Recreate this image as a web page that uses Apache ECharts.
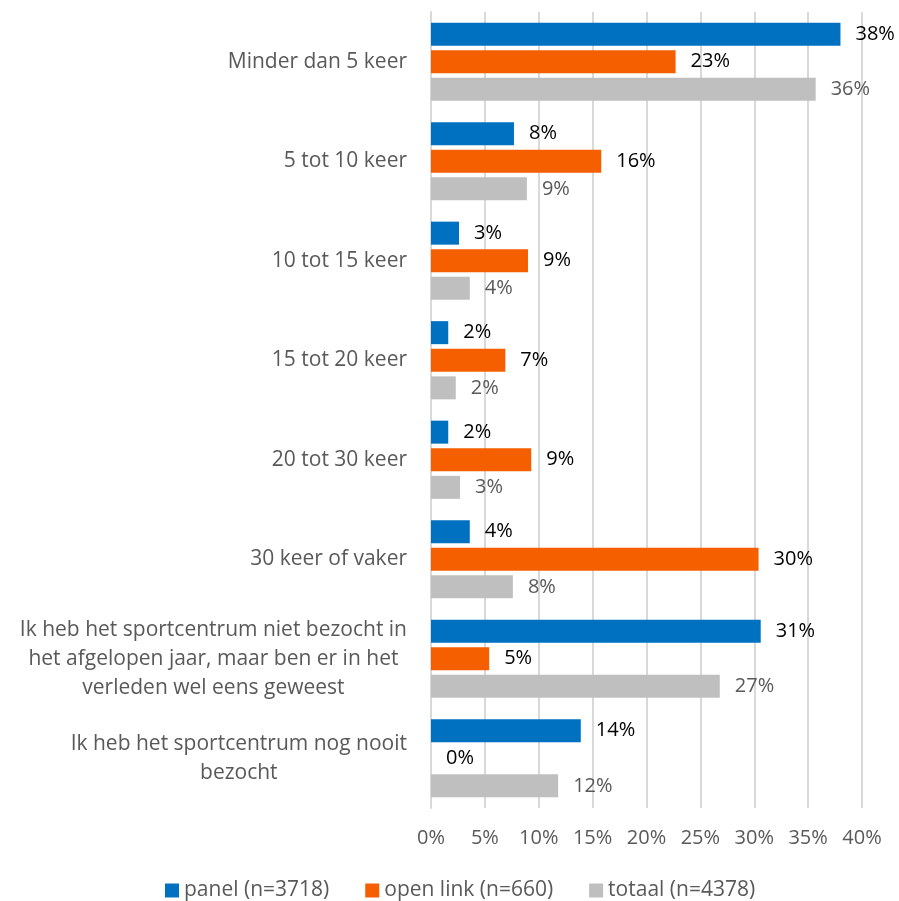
<!DOCTYPE html>
<html>
<head>
<meta charset="utf-8">
<title>Bezoek sportcentrum</title>
<script src="https://cdn.jsdelivr.net/npm/echarts@6/dist/echarts.min.js"></script>
<style>
  html, body { margin: 0; padding: 0; background: #fff; }
  #main { width: 899px; height: 901px; }
</style>
</head>
<body>
<div id="main"></div>
<script>
// categorieen (van boven naar beneden)
var categories = [
  'Minder dan 5 keer',
  '5 tot 10 keer',
  '10 tot 15 keer',
  '15 tot 20 keer',
  '20 tot 30 keer',
  '30 keer of vaker',
  'Ik heb het sportcentrum niet bezocht in\nhet afgelopen jaar, maar ben er in het\nverleden wel eens geweest',
  'Ik heb het sportcentrum nog nooit\nbezocht'
];
var seriesNames = ['panel (n=3718)', 'open link (n=660)', 'totaal (n=4378)'];
// percentages
var panel = [38.0, 7.7, 2.6, 1.6, 1.6, 3.6, 30.6, 13.9];
var openLink = [22.7, 15.8, 9.0, 6.9, 9.3, 30.4, 5.4, 0];
var totaal = [35.7, 8.9, 3.6, 2.3, 2.7, 7.6, 26.8, 11.8];
var xTicks = [0, 5, 10, 15, 20, 25, 30, 35, 40];

var font = '"Open Sans", "Noto Sans", sans-serif';
var colors = ['#0070C0', '#F55F00', '#BFBFBF'];
var labelColors = ['#000000', '#000000', '#595959'];

function barSeries(idx, data) {
  return {
    name: seriesNames[idx],
    type: 'bar',
    data: data,
    barWidth: 23,
    barGap: '20%',
    itemStyle: { color: colors[idx] },
    label: {
      show: true,
      position: 'right',
      distance: 15,
      color: labelColors[idx],
      fontFamily: font,
      fontSize: 20,
      formatter: function (p) { return Math.round(p.value) + '%'; }
    }
  };
}

var myChart = echarts.init(document.getElementById('main'));
myChart.setOption({
  animation: false,
  textStyle: { fontFamily: font },
  grid: { left: 431, right: 37, top: 12, height: 796, containLabel: false },
  legend: {
    data: seriesNames,
    left: 165,
    top: 880,
    padding: 0,
    icon: 'rect',
    itemWidth: 14,
    itemHeight: 14,
    itemGap: 36,
    textStyle: { color: '#595959', fontSize: 21, fontFamily: font }
  },
  xAxis: {
    type: 'value',
    min: xTicks[0],
    max: xTicks[xTicks.length - 1],
    interval: 5,
    axisLine: { show: false },
    axisTick: { show: false },
    splitLine: { lineStyle: { color: '#D9D9D9', width: 2 } },
    axisLabel: {
      margin: 20,
      color: '#595959',
      fontSize: 20,
      fontFamily: font,
      formatter: '{value}%'
    }
  },
  yAxis: {
    type: 'category',
    inverse: true,
    data: categories,
    axisTick: { show: false },
    axisLine: { show: true, lineStyle: { color: '#D9D9D9', width: 2 } },
    axisLabel: {
      margin: 24,
      // meerregelige labels gecentreerd zoals in Excel
      formatter: function (v) {
        return v.split('\n').map(function (l) { return '{c|' + l + '}'; }).join('\n');
      },
      rich: {
        c: { align: 'center', color: '#595959', fontSize: 21, fontFamily: font, lineHeight: 29 }
      }
    }
  },
  series: [
    barSeries(0, panel),
    barSeries(1, openLink),
    barSeries(2, totaal)
  ]
});
</script>
</body>
</html>
